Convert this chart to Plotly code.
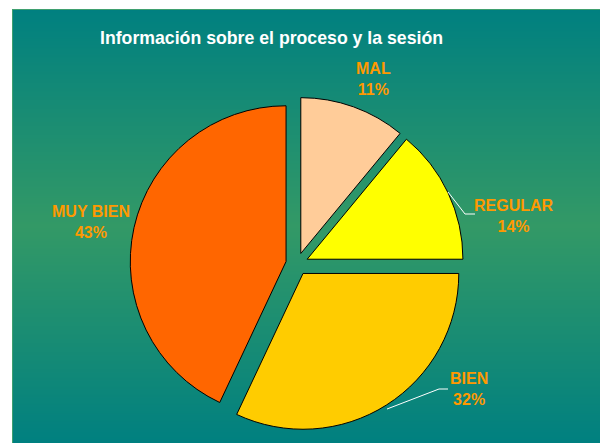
import base64
import struct
import zlib

import plotly.graph_objects as go

# ---- data ----
categories = ["MAL", "REGULAR", "BIEN", "MUY BIEN"]
percentages = [11, 14, 32, 43]
slice_colors = ["#FFCC99", "#FFFF00", "#FFCC00", "#FF6600"]
title_text = "Información sobre el proceso y la sesión"

W, H = 600, 443

def px(x):
    return x / W

def py(y):
    return 1 - y / H

fig = go.Figure()

CX, CY, HALF = 297, 264, 167
fig.add_trace(go.Pie(
    labels=categories,
    values=percentages,
    sort=False,
    direction="clockwise",
    rotation=0,
    pull=[0.072] * len(categories),
    marker=dict(colors=slice_colors, line=dict(color="#000000", width=1)),
    textinfo="none",
    hoverinfo="label+percent",
    showlegend=False,
    domain=dict(x=[px(CX - HALF), px(CX + HALF)], y=[py(CY + HALF), py(CY - HALF)]),
))

# ---- gradient background image (teal -> sea green -> teal) ----
top_rgb = (0, 128, 128)
mid_rgb = (51, 153, 102)
x0, x1 = 12, 600
y_top, y_bot = 9, 443
NPIX = y_bot - y_top

def make_png(rows):
    raw = b"".join(b"\x00" + bytes(r) for r in rows)
    def chunk(tag, data):
        return (struct.pack(">I", len(data)) + tag + data
                + struct.pack(">I", zlib.crc32(tag + data) & 0xFFFFFFFF))
    ihdr = struct.pack(">IIBBBBB", 1, len(rows), 8, 2, 0, 0, 0)
    return (b"\x89PNG\r\n\x1a\n" + chunk(b"IHDR", ihdr)
            + chunk(b"IDAT", zlib.compress(raw)) + chunk(b"IEND", b""))

rows = []
for i in range(NPIX):
    t = (i + 0.5) / NPIX
    f = 1 - abs(2 * t - 1)
    rows.append(tuple(round(top_rgb[k] + (mid_rgb[k] - top_rgb[k]) * f) for k in range(3)))
png_uri = "data:image/png;base64," + base64.b64encode(make_png(rows)).decode()

images = [dict(
    source=png_uri, xref="paper", yref="paper",
    x=px(x0), y=py(y_top), sizex=px(x1) - px(x0), sizey=py(y_top) - py(y_bot),
    xanchor="left", yanchor="top", sizing="stretch", layer="below",
)]

shapes = []
# thin lighter border at top and left
shapes.append(dict(type="line", xref="paper", yref="paper",
                   x0=px(x0), x1=px(x1), y0=py(y_top + 0.5), y1=py(y_top + 0.5),
                   line=dict(color="#3FA070", width=1), layer="below"))
shapes.append(dict(type="line", xref="paper", yref="paper",
                   x0=px(x0 + 0.5), x1=px(x0 + 0.5), y0=py(y_top), y1=py(y_bot),
                   line=dict(color="#3FA070", width=1), layer="below"))

# leader lines
def path(points):
    d = "M " + " L ".join("%f,%f" % (px(a), py(b)) for a, b in points)
    return dict(type="path", xref="paper", yref="paper", path=d,
                line=dict(color="white", width=1), layer="above")

shapes.append(path([(448, 192), (465, 214), (475, 214)]))
shapes.append(path([(387, 409), (439, 389), (448, 389)]))

# ---- data labels ----
label_pos = [(373, 79), (514, 215.5), (469, 389), (91, 221.5)]
annotations = []
for cat, val, (lx, ly) in zip(categories, percentages, label_pos):
    annotations.append(dict(
        x=px(lx), y=py(ly), xref="paper", yref="paper",
        text="%s<br>%d%%" % (cat, val), showarrow=False,
        xanchor="center", yanchor="middle", align="center",
        font=dict(family="Liberation Sans, Arial, sans-serif", size=16,
                  color="#FF9900", weight="bold"),
    ))

annotations.append(dict(
    x=px(271.5), y=py(38), xref="paper", yref="paper",
    text=title_text, showarrow=False, xanchor="center", yanchor="middle",
    font=dict(family="Liberation Sans, Arial, sans-serif", size=17.7,
              color="white", weight="bold"),
))

fig.update_layout(
    width=W, height=H,
    margin=dict(l=0, r=0, t=0, b=0),
    paper_bgcolor="white",
    plot_bgcolor="white",
    shapes=shapes,
    images=images,
    annotations=annotations,
)

fig.write_html("out.html", config={"displayModeBar": False},
               post_script="document.body.style.margin='0px';")
